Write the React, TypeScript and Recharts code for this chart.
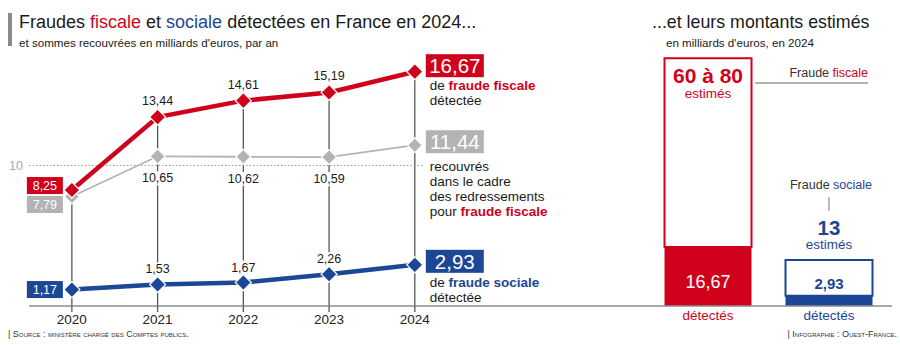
import React from 'react';
import {
  LineChart,
  Line,
  XAxis,
  YAxis,
  ReferenceLine,
  LabelList,
  BarChart,
  Bar,
  Cell
} from 'recharts';

const years = [2020, 2021, 2022, 2023, 2024];
const fraudeFiscale = [8.25, 13.44, 14.61, 15.19, 16.67];
const recouvrements = [7.79, 10.65, 10.62, 10.59, 11.44];
const fraudeSociale = [1.17, 1.53, 1.67, 2.26, 2.93];

const typesFraude = ['fiscale', 'sociale'];
const montantsEstimes = [70, 13];
const libellesEstimes = ['60 à 80', '13'];
const montantsDetectes = [16.67, 2.93];

const RED = '#d0021b';
const BLUE = '#1c4696';
const GREY = '#b3b3b3';
const INK = '#1a1a1a';
const FONT = '"Liberation Sans", Arial, Helvetica, sans-serif';

const fr = (v: number) => v.toFixed(2).replace('.', ',');

const lineData = years.map((year, i) => ({
  year,
  fiscale: fraudeFiscale[i],
  recouvre: recouvrements[i],
  sociale: fraudeSociale[i]
}));

const barData = typesFraude.map((type, i) => ({
  type,
  detecte: montantsDetectes[i],
  reste: montantsEstimes[i] - montantsDetectes[i],
  libelle: libellesEstimes[i]
}));

const last = years.length - 1;

const diamond = (color: string, r: number) => (props: any) => {
  const { cx, cy, index } = props;
  if (cx == null || cy == null) return <g key={`d-${index}`} />;
  return (
    <polygon
      key={`d-${index}`}
      points={`${cx},${cy - r} ${cx + r},${cy} ${cx},${cy + r} ${cx - r},${cy}`}
      fill={color}
      stroke="#fff"
      strokeWidth={1.2}
    />
  );
};

const pos = (p: any) => ({
  x: p.x ?? p.viewBox?.x,
  y: p.y ?? p.viewBox?.y
});

// plain value with a white patch so the vertical guide is cut
const Tag = ({ x, base, text }: any) => {
  const w = text.length * 7 + 2;
  return (
    <g>
      <rect x={x - w / 2} y={base - 11} width={w} height={14} fill="#fff" />
      <text x={x} y={base} textAnchor="middle" fontSize={12.5} fill={INK} fontFamily={FONT}>
        {text}
      </text>
    </g>
  );
};

const SmallBox = ({ x, top, color, text }: any) => (
  <g>
    <rect x={x - 45} y={top} width={36} height={17} fill={color} />
    <text x={x - 27} y={top + 13} textAnchor="middle" fontSize={12.5} fill="#fff" fontFamily={FONT}>
      {text}
    </text>
  </g>
);

const BigBox = ({ x, top, color, text }: any) => (
  <g>
    <rect x={x + 11} y={top} width={58} height={23} fill={color} />
    <text x={x + 40} y={top + 19} textAnchor="middle" fontSize={20.5} fill="#fff" fontFamily={FONT}>
      {text}
    </text>
  </g>
);

const NoteLine = ({ x, y, children }: any) => (
  <text x={x + 15} y={y} fontSize={13.5} fill={INK} fontFamily={FONT}>
    {children}
  </text>
);

const FiscaleLabel = (p: any) => {
  const { x, y } = pos(p);
  const v = fr(Number(p.value));
  if (p.index === 0) return <SmallBox x={x} top={y - 13} color={RED} text={v} />;
  if (p.index === last)
    return (
      <g>
        <BigBox x={x} top={y - 17.5} color={RED} text={v} />
        <NoteLine x={x} y={y + 18.5}>
          de <tspan fill={RED} fontWeight={600}>fraude fiscale</tspan>
        </NoteLine>
        <NoteLine x={x} y={y + 33.5}>détectée</NoteLine>
      </g>
    );
  return <Tag x={x} base={y - 12} text={v} />;
};

const RecouvreLabel = (p: any) => {
  const { x, y } = pos(p);
  const v = fr(Number(p.value));
  if (p.index === 0) return <SmallBox x={x} top={y - 0.5} color={GREY} text={v} />;
  if (p.index === last)
    return (
      <g>
        <BigBox x={x} top={y - 15} color={GREY} text={v} />
        <NoteLine x={x} y={y + 26}>recouvrés</NoteLine>
        <NoteLine x={x} y={y + 41}>dans le cadre</NoteLine>
        <NoteLine x={x} y={y + 56}>des redressements</NoteLine>
        <NoteLine x={x} y={y + 71}>
          pour <tspan fill={RED} fontWeight={600}>fraude fiscale</tspan>
        </NoteLine>
      </g>
    );
  return <Tag x={x} base={y + 26} text={v} />;
};

const SocialeLabel = (p: any) => {
  const { x, y } = pos(p);
  const v = fr(Number(p.value));
  if (p.index === 0) return <SmallBox x={x} top={y - 8.5} color={BLUE} text={v} />;
  if (p.index === last)
    return (
      <g>
        <BigBox x={x} top={y - 15} color={BLUE} text={v} />
        <NoteLine x={x} y={y + 22}>
          de <tspan fill={BLUE} fontWeight={600}>fraude sociale</tspan>
        </NoteLine>
        <NoteLine x={x} y={y + 37}>détectée</NoteLine>
      </g>
    );
  return <Tag x={x} base={y - 11} text={v} />;
};

const barColor = (i: number) => (i === 0 ? RED : BLUE);

const DetecteLabel = (p: any) => {
  const vb = p.viewBox ?? p;
  const cx = vb.x + vb.width / 2;
  const v = fr(Number(p.value));
  if (p.index === 0)
    return (
      <text x={cx} y={vb.y + vb.height - 18} textAnchor="middle" fontSize={18} fill="#fff" fontFamily={FONT}>
        {v}
      </text>
    );
  return (
    <text x={cx} y={vb.y - 7} textAnchor="middle" fontSize={15} fontWeight="bold" fill={BLUE} fontFamily={FONT}>
      {v}
    </text>
  );
};

const EstimeLabel = (p: any) => {
  const vb = p.viewBox ?? p;
  const cx = vb.x + vb.width / 2;
  const i = p.index ?? 0;
  const color = barColor(i);
  const top = i === 0 ? vb.y + 25 : vb.y - 25;
  return (
    <g>
      <text x={cx} y={top} textAnchor="middle" fontSize={i === 0 ? 21 : 20.5} fontWeight="bold" fill={color} fontFamily={FONT}>
        {libellesEstimes[i]}
      </text>
      <text x={cx} y={top + 14.5} textAnchor="middle" fontSize={13.5} fill={color} fontFamily={FONT}>
        estimés
      </text>
    </g>
  );
};

const DetecteTick = (p: any) => {
  const i = typesFraude.indexOf(p.payload?.value);
  return (
    <text x={p.x} y={p.y} dy="0.71em" textAnchor="middle" fontSize={13.5} fill={barColor(i)} fontFamily={FONT}>
      détectés
    </text>
  );
};

export default function App() {
  return (
    <div style={{ position: 'absolute', left: 0, top: 0, width: 900, height: 345, background: '#fff', fontFamily: FONT }}>
      <div style={{ position: 'absolute', left: 0, top: 0 }}>
        <LineChart width={600} height={345} data={lineData} margin={{ top: 53, right: 0, left: 29, bottom: 14 }}>
          <XAxis
            dataKey="year"
            type="number"
            domain={[2019.5, 2026.16]}
            ticks={years}
            height={25}
            interval={0}
            axisLine={{ stroke: '#8c8c8c', strokeWidth: 1.5 }}
            tickLine={{ stroke: '#555', strokeWidth: 1.3 }}
            tickSize={6}
            tick={{ fontSize: 13.5, fill: '#222', fontFamily: FONT }}
          />
          <YAxis hide domain={[0, 18]} />
          {years.map((year, i) => (
            <ReferenceLine
              key={year}
              segment={[{ x: year, y: 0 }, { x: year, y: fraudeFiscale[i] }]}
              stroke="#555"
              strokeWidth={1.3}
            />
          ))}
          <ReferenceLine
            segment={[{ x: 2019.5, y: 10 }, { x: 2024.1, y: 10 }]}
            stroke="#9a9a9a"
            strokeDasharray="1.5 2"
            label={{ value: '10', position: 'left', offset: 6, fill: '#aaa', fontSize: 12.5, fontFamily: FONT }}
          />
          <Line
            type="linear"
            dataKey="recouvre"
            stroke={GREY}
            strokeWidth={1.8}
            dot={diamond(GREY, 7.5)}
            activeDot={false}
            isAnimationActive={false}
          >
            <LabelList dataKey="recouvre" content={RecouvreLabel} />
          </Line>
          <Line
            type="linear"
            dataKey="fiscale"
            stroke={RED}
            strokeWidth={4.5}
            dot={diamond(RED, 8)}
            activeDot={false}
            isAnimationActive={false}
          >
            <LabelList dataKey="fiscale" content={FiscaleLabel} />
          </Line>
          <Line
            type="linear"
            dataKey="sociale"
            stroke={BLUE}
            strokeWidth={4.5}
            dot={diamond(BLUE, 8)}
            activeDot={false}
            isAnimationActive={false}
          >
            <LabelList dataKey="sociale" content={SocialeLabel} />
          </Line>
        </LineChart>
      </div>

      <div style={{ position: 'absolute', left: 600, top: 0 }}>
        <BarChart width={300} height={345} data={barData} margin={{ top: 37, right: 8, left: 0, bottom: 14 }}>
          <XAxis
            dataKey="type"
            height={25}
            padding={{ left: 47.5, right: 2.5 }}
            axisLine={{ stroke: '#8c8c8c', strokeWidth: 1.5 }}
            tickLine={false}
            tickSize={2}
            tick={<DetecteTick />}
          />
          <YAxis hide domain={[0, 76]} />
          <Bar dataKey="detecte" stackId="a" barSize={87} isAnimationActive={false}>
            {barData.map((d, i) => (
              <Cell key={d.type} fill={barColor(i)} />
            ))}
            <LabelList dataKey="detecte" content={DetecteLabel} />
          </Bar>
          <Bar dataKey="reste" stackId="a" barSize={87} fill="#fff" strokeWidth={2} isAnimationActive={false}>
            {barData.map((d, i) => (
              <Cell key={d.type} fill="#fff" stroke={barColor(i)} />
            ))}
            <LabelList dataKey="reste" content={EstimeLabel} />
          </Bar>
        </BarChart>
      </div>

      <svg width={900} height={345} style={{ position: 'absolute', left: 0, top: 0, pointerEvents: 'none' }} fontFamily={FONT}>
        <rect x={8} y={13} width={4} height={33} fill="#8a8a8a" />
        <text x={19} y={28} fontSize={18} fill={INK}>
          Fraudes <tspan fill={RED}>fiscale</tspan> et <tspan fill={BLUE}>sociale</tspan> détectées en France en 2024...
        </text>
        <text x={19} y={46.5} fontSize={11.6} fill={INK}>
          et sommes recouvrées en milliards d'euros, par an
        </text>
        <text x={652} y={28} fontSize={17.8} fill={INK}>
          ...et leurs montants estimés
        </text>
        <text x={666} y={46.5} fontSize={11.6} fill={INK}>
          en milliards d'euros, en 2024
        </text>

        <text x={868} y={77} fontSize={12.5} fill="#333" textAnchor="end">
          Fraude <tspan fill={RED}>fiscale</tspan>
        </text>
        <line x1={755} y1={83} x2={868} y2={83} stroke="#999" strokeWidth={1.3} />
        <text x={872} y={189} fontSize={12.5} fill="#333" textAnchor="end">
          Fraude <tspan fill={BLUE}>sociale</tspan>
        </text>
        <line x1={829} y1={197} x2={829} y2={211} stroke="#999" strokeWidth={1.3} />

        <text x={8} y={337} fontSize={9} fill="#333" style={{ fontVariant: 'small-caps' }}>
          | Source : ministère chargé des Comptes publics.
        </text>
        <text x={897} y={337} fontSize={9} fill="#333" textAnchor="end" style={{ fontVariant: 'small-caps' }}>
          | Infographie : Ouest-France.
        </text>
      </svg>
    </div>
  );
}
